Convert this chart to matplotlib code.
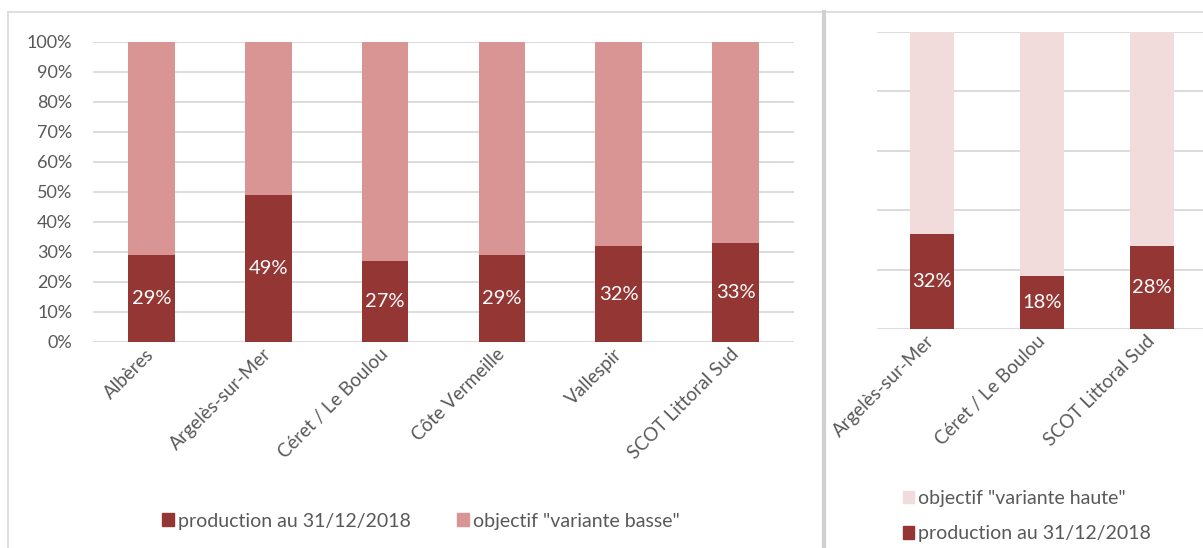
import matplotlib
matplotlib.use('Agg')
import matplotlib.pyplot as plt
from matplotlib.lines import Line2D
from matplotlib.ticker import PercentFormatter

matplotlib.rcParams['font.family'] = ['Lato', 'DejaVu Sans']
matplotlib.rcParams['font.size'] = 13

# Données : part de la production réalisée au 31/12/2018 par rapport à l'objectif
secteurs_basse = ['Albères', 'Argelès-sur-Mer', 'Céret / Le Boulou',
                  'Côte Vermeille', 'Vallespir', 'SCOT Littoral Sud']
prod_basse = [0.29, 0.49, 0.27, 0.29, 0.32, 0.33]

secteurs_haute = ['Argelès-sur-Mer', 'Céret / Le Boulou', 'SCOT Littoral Sud']
prod_haute = [0.32, 0.18, 0.28]

rouge_fonce = '#943634'
rouge_clair = '#D99594'
rose_pale = '#F2DCDB'
gris_texte = '#595959'
gris_grille = '#D9D9D9'

W, H = 1203, 548
fig = plt.figure(figsize=(W / 100, H / 100), dpi=100)


def px(x, y):
    return x / W, 1 - y / H


def style_axes(ax, n, pas):
    ax.set_xlim(-0.5, n - 0.5)
    ax.set_ylim(0, 1)
    ax.set_yticks([i * pas for i in range(round(1 / pas) + 1)])
    ax.yaxis.grid(True, color=gris_grille, linewidth=1.3)
    ax.set_axisbelow(True)
    for s in ax.spines.values():
        s.set_visible(False)
    ax.tick_params(length=0, colors=gris_texte)


def draw_bars(ax, secteurs, prod, couleur_reste):
    x = range(len(secteurs))
    reste = [1 - p for p in prod]
    ax.bar(x, prod, width=0.4, color=rouge_fonce)
    ax.bar(x, reste, bottom=prod, width=0.4, color=couleur_reste)
    for i, p in enumerate(prod):
        ax.text(i, p / 2, f'{round(p * 100):.0f}%', ha='center', va='center',
                color='white', fontsize=14.5)
    ax.set_xticks(list(x))
    ax.set_xticklabels(secteurs, rotation=45, ha='right', va='center',
                       rotation_mode='anchor', fontsize=13.5, color=gris_texte)


# Graphique de gauche : variante basse
x0, y0 = px(93, 342)
x1, y1 = px(794, 42)
ax1 = fig.add_axes([x0, y0, x1 - x0, y1 - y0])
style_axes(ax1, len(secteurs_basse), 0.1)
draw_bars(ax1, secteurs_basse, prod_basse, rouge_clair)
ax1.yaxis.set_major_formatter(PercentFormatter(1.0, decimals=0))
ax1.tick_params(axis='y', pad=15, labelsize=13)
ax1.tick_params(axis='x', pad=7)

# Graphique de droite : variante haute (coupé à droite)
x0, y0 = px(877, 329)
x1, y1 = px(1207, 32)
ax2 = fig.add_axes([x0, y0, x1 - x0, y1 - y0])
style_axes(ax2, len(secteurs_haute), 0.2)
draw_bars(ax2, secteurs_haute, prod_haute, rose_pale)
ax2.set_yticklabels([])
ax2.tick_params(axis='x', pad=7)

# Légendes
h_prod = plt.Rectangle((0, 0), 1, 1, color=rouge_fonce)
h_basse = plt.Rectangle((0, 0), 1, 1, color=rouge_clair)
h_haute = plt.Rectangle((0, 0), 1, 1, color=rose_pale)

fig.legend([h_prod, h_basse], ['production au 31/12/2018', 'objectif "variante basse"'],
           loc='center', bbox_to_anchor=px(421, 521), ncol=2, frameon=False,
           handlelength=0.6, handleheight=0.6, handletextpad=0.2, columnspacing=2.4,
           labelcolor=gris_texte, fontsize=14)
fig.legend([h_haute, h_prod], ['objectif "variante haute"', 'production au 31/12/2018'],
           loc='center left', bbox_to_anchor=px(885, 516), ncol=1, frameon=False,
           handlelength=0.6, handleheight=0.6, handletextpad=0.2, labelspacing=0.95,
           labelcolor=gris_texte, fontsize=14)

# Cadres des deux graphiques
cadre = dict(color=gris_grille, linewidth=1.2, transform=fig.transFigure)
fig.add_artist(Line2D([8 / W, 8 / W], [0, 1 - 12 / H], **cadre))
fig.add_artist(Line2D([8 / W, 1], [1 - 12 / H, 1 - 12 / H], **cadre))
fig.add_artist(Line2D([823.5 / W, 823.5 / W], [0, 1 - 12 / H], color='#D0D0D0',
                      linewidth=3, transform=fig.transFigure))

fig.savefig('out.png', dpi=100)
